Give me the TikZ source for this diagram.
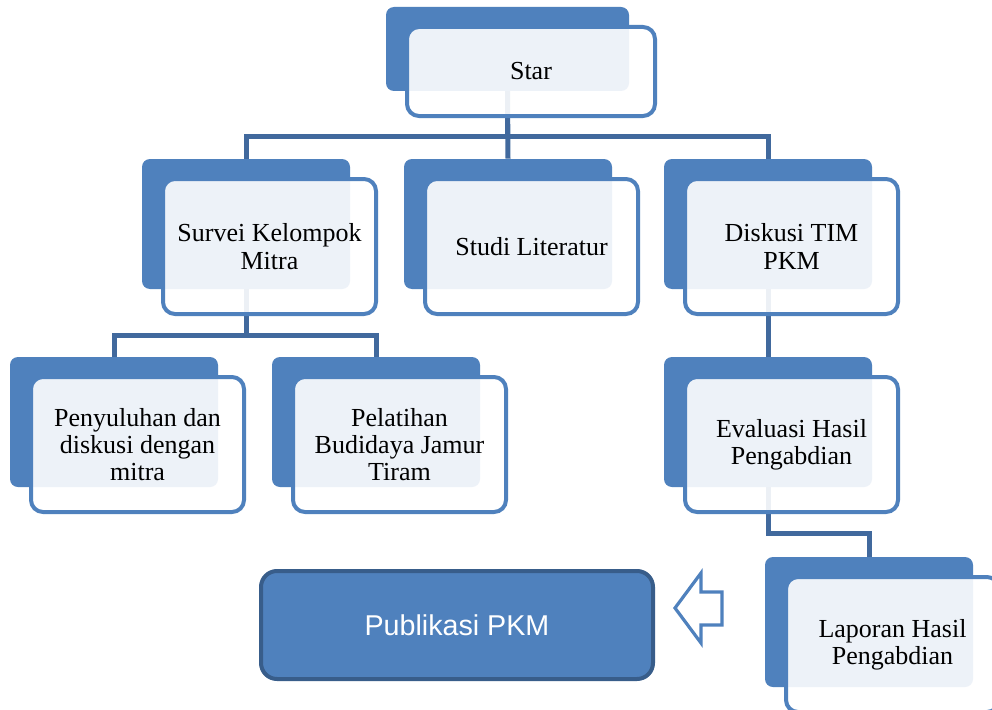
\documentclass[tikz,border=0pt]{standalone}
\usepackage{fontspec}
\setmainfont{Liberation Serif}
\newfontfamily\pkmsans{Liberation Sans}
\definecolor{pkmblue}{HTML}{4F81BD}
\definecolor{pkmline}{HTML}{41699D}
\definecolor{pkmdark}{HTML}{385D8A}
\tikzset{
  backbox/.style={fill=pkmblue, draw=none, rounded corners=6pt, inner sep=0pt,
    minimum width=156pt, minimum height=97.5pt},
  frontbox/.style={draw=pkmblue, line width=3pt, fill=white, fill opacity=0.9,
    text opacity=1, rounded corners=9pt, inner sep=0pt,
    minimum width=159.75pt, minimum height=101.25pt, align=center,
    font=\fontsize{19.5}{20.5}\selectfont},
  conn/.style={draw=pkmline, line width=3.75pt},
  pubbox/.style={fill=pkmblue, draw=pkmdark, line width=3pt, rounded corners=12pt,
    inner sep=0pt, minimum width=294pt, minimum height=81pt, text=white,
    font=\pkmsans\fontsize{21.5}{24}\selectfont},
  hollowarrow/.style={draw=pkmblue, line width=2.4pt, fill=white, line join=miter},
}
\begin{document}
\begin{tikzpicture}[x=0.75pt,y=-0.75pt]
\clip (0,0) rectangle (992,710);
\fill[white] (0,0) rectangle (992,710);
% back boxes
\node[backbox, minimum width=182.25pt, minimum height=63pt] (starB) at (507.5,49) {};
\node[backbox] (survB) at (246,224) {};
\node[backbox] (studB) at (508,224) {};
\node[backbox] (diskB) at (768,224) {};
\node[backbox] (penyB) at (114,422) {};
\node[backbox] (pelaB) at (376,422) {};
\node[backbox] (evalB) at (768,422) {};
\node[backbox] (lapB) at (869,622) {};
% connectors
\draw[conn] (starB.south) -- ++(0,45) -| (survB.north);
\draw[conn] (starB.south) -- (studB.north);
\draw[conn] (starB.south) -- ++(0,45) -| (diskB.north);
\draw[conn] (survB.south) -- ++(0,46) -| (penyB.north);
\draw[conn] (survB.south) -- ++(0,46) -| (pelaB.north);
\draw[conn] (diskB.south) -- (evalB.north);
\draw[conn] (evalB.south) -- ++(0,46) -| (lapB.north);
% front boxes
\node[frontbox, minimum width=186pt, minimum height=66.75pt] (starF) at (531,71.5) {Star};
\node[frontbox] (survF) at (269.5,246.5) {Survei Kelompok\\Mitra};
\node[frontbox] (studF) at (531.5,246.5) {Studi Literatur};
\node[frontbox] (diskF) at (791.5,246.5) {Diskusi TIM\\PKM};
\node[frontbox] (penyF) at (137.5,444.5) {Penyuluhan dan\\diskusi dengan\\mitra};
\node[frontbox] (pelaF) at (399.5,444.5) {Pelatihan\\Budidaya Jamur\\Tiram};
\node[frontbox] (evalF) at (791.5,444.5) {Evaluasi Hasil\\Pengabdian};
\node[frontbox] (lapF) at (892.5,644.5) {Laporan Hasil\\Pengabdian};
% publication box and arrow
\node[pubbox] (pub) at (457,625) {Publikasi PKM};
\draw[hollowarrow] (675,608) -- (701,573) -- (701,592) -- (722,592) -- (722,625)
  -- (701,625) -- (701,643) -- cycle;
\end{tikzpicture}
\end{document}
